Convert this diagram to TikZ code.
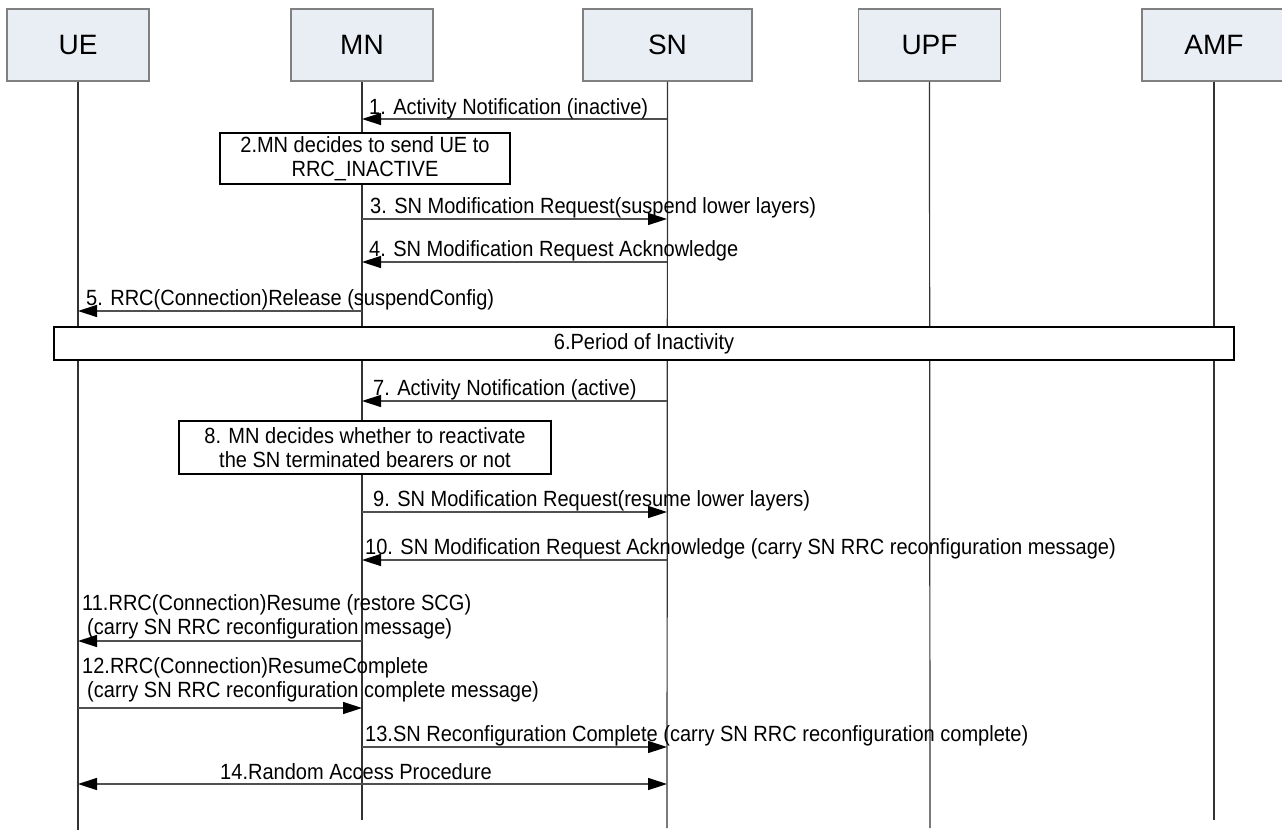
\documentclass[tikz,border=0pt]{standalone}
\usepackage{fontspec}
\setmainfont{Liberation Sans}
\newfontfamily\narrowfont[FakeStretch=0.91]{Liberation Sans}
\usetikzlibrary{arrows.meta}
\definecolor{headfill}{RGB}{233,237,244}
\definecolor{headline}{RGB}{128,128,128}
\definecolor{msgline}{RGB}{80,80,80}
\begin{document}
\begin{tikzpicture}[x=1pt,y=-1pt,
  head/.style={draw=headline, fill=headfill, line width=1.5pt, minimum width=142pt, minimum height=72pt, inner sep=0pt, font=\fontsize{28}{32}\selectfont},
  life/.style={draw=black!80, line width=1.2pt},
  msg/.style={draw=msgline, line width=1.4pt, -{Triangle[length=19pt,width=12pt,color=black]}},
  dmsg/.style={draw=msgline, line width=1.4pt, {Triangle[length=19pt,width=12pt,color=black]}-{Triangle[length=19pt,width=12pt,color=black]}},
  lbl/.style={anchor=base west, inner sep=0pt, font=\narrowfont\fontsize{22}{24}\selectfont},
  actbox/.style={draw=black, line width=2pt, fill=white, inner sep=0pt, align=center, font=\narrowfont\fontsize{22}{24}\selectfont}]
\useasboundingbox (0,0) rectangle (1282,830);
% heads
\node[head] (ue) at (78,45) {UE};
\node[head] (mn) at (362,45) {MN};
\node[head, minimum width=169pt] (sn) at (667.5,45) {SN};
\node[head] (upf) at (929.5,45) {UPF};
\node[head, minimum width=150pt] (amf) at (1217,45) {\hspace*{-6pt}AMF};
% lifeline ends
\coordinate (ueEnd) at (78,830);
\coordinate (mnEnd) at (362,820);
\coordinate (snEnd) at (667,828);
\coordinate (upfEnd) at (930,828);
\coordinate (amfEnd) at (1214,820);
\draw[life] (ue.south) -- (ueEnd);
\draw[life] (mn.south) -- (mnEnd);
\draw[life] (sn.south) -- (snEnd);
\draw[life] (upf.south) -- (upfEnd);
\draw[life] (amfEnd |- amf.south) -- (amfEnd);
% message rows
\foreach \n/\y in {1/119,3/219,4/262,5/311,7/401,9/512,10/560,11/641,12/708,13/747,14/784}{
  \coordinate (ue\n) at (78,\y);
  \coordinate (mn\n) at (362,\y);
  \coordinate (sn\n) at (667,\y);
}
% action boxes
\node[actbox, minimum width=290pt, minimum height=51pt] (b2) at (365,158.5) {2.MN decides to send UE to\\RRC\_INACTIVE};
\node[actbox, minimum width=1180pt, minimum height=33pt] (b6) at (644,343.5) {6.Period of Inactivity};
\node[actbox, minimum width=372pt, minimum height=53pt] (b8) at (365,447.5) {8. MN decides whether to reactivate\\the SN terminated bearers or not};
% messages
\draw[msg] (sn1) -- (mn1);
\node[lbl] (t1) at (369,114) {1. Activity Notification (inactive)};
\draw[msg] (mn3) -- (sn3);
\node[lbl] (t3) at (370,213) {3. SN Modification Request(suspend lower layers)};
\draw[msg] (sn4) -- (mn4);
\node[lbl] (t4) at (369,256) {4. SN Modification Request Acknowledge};
\draw[msg] (mn5) -- (ue5);
\node[lbl] (t5) at (86,305) {5. RRC(Connection)Release (suspendConfig)};
\draw[msg] (sn7) -- (mn7);
\node[lbl] (t7) at (373,395) {7. Activity Notification (active)};
\draw[msg] (mn9) -- (sn9);
\node[lbl] (t9) at (373,506) {9. SN Modification Request(resume lower layers)};
\draw[msg] (sn10) -- (mn10);
\node[lbl] (t10) at (365,554) {10. SN Modification Request Acknowledge (carry SN RRC reconfiguration message)};
\draw[msg] (mn11) -- (ue11);
\node[lbl] (t11a) at (82,610) {11.RRC(Connection)Resume (restore SCG)};
\node[lbl] (t11b) at (87,634) {(carry SN RRC reconfiguration message)};
\draw[msg] (ue12) -- (mn12);
\node[lbl] (t12a) at (82,673) {12.RRC(Connection)ResumeComplete};
\node[lbl] (t12b) at (87,697) {(carry SN RRC reconfiguration complete message)};
\draw[msg] (mn13) -- (sn13);
\node[lbl] (t13) at (365,741) {13.SN Reconfiguration Complete (carry SN RRC reconfiguration complete)};
\draw[dmsg] (ue14) -- (sn14);
\node[lbl, anchor=base] (t14) at (356,779) {14.Random Access Procedure};
\end{tikzpicture}
\end{document}
